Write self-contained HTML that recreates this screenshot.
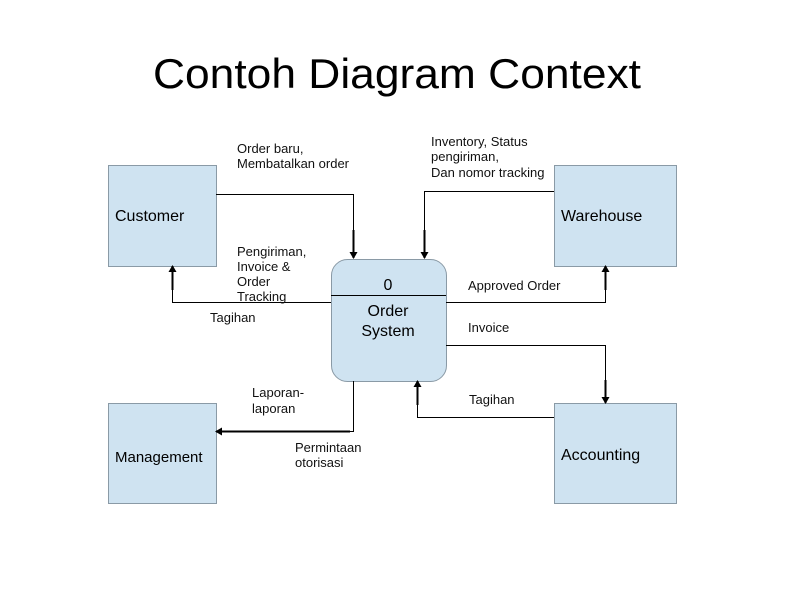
<!DOCTYPE html>
<html><head><meta charset="utf-8"><style>html,body{margin:0;padding:0;background:#fff}svg{display:block}</style></head>
<body>
<svg width="794" height="595" viewBox="0 0 794 595" xmlns="http://www.w3.org/2000/svg" font-family="Liberation Sans, sans-serif">
<defs>
<marker id="a" markerWidth="8" markerHeight="8" refX="6" refY="4" orient="auto" markerUnits="userSpaceOnUse">
<path d="M0,0 L7,4 L0,8 z" fill="#000"/>
</marker>
</defs>
<text x="397" y="88" font-size="42" text-anchor="middle" textLength="488" lengthAdjust="spacingAndGlyphs">Contoh Diagram Context</text>
<g fill="#cfe3f1" stroke="#8a9aa6" stroke-width="1">
<rect x="108.5" y="165.5" width="108" height="101"/>
<rect x="554.5" y="165.5" width="122" height="101"/>
<rect x="108.5" y="403.5" width="108" height="100"/>
<rect x="554.5" y="403.5" width="122" height="100"/>
<rect x="331.5" y="259.5" width="115" height="122" rx="16"/>
</g>
<line x1="331" y1="295.5" x2="446" y2="295.5" stroke="#000" stroke-width="1"/>
<g stroke="#000" stroke-width="1" fill="none">
<polyline points="216,194.5 353.5,194.5 353.5,252"/>
<polyline points="554,191.5 424.5,191.5 424.5,252"/>
<polyline points="331,302.5 172.5,302.5 172.5,272"/>
<polyline points="446,302.5 605.5,302.5 605.5,272"/>
<polyline points="446,345.5 605.5,345.5 605.5,397"/>
<polyline points="554,417.5 417.5,417.5 417.5,387"/>
<polyline points="353.5,381 353.5,431.5 222,431.5"/>
</g>
<g stroke="#000" stroke-width="2" marker-end="url(#a)">
<line x1="353.5" y1="230" x2="353.5" y2="258"/>
<line x1="424.5" y1="230" x2="424.5" y2="258"/>
<line x1="172.5" y1="290" x2="172.5" y2="266"/>
<line x1="605.5" y1="290" x2="605.5" y2="266"/>
<line x1="605.5" y1="380" x2="605.5" y2="403"/>
<line x1="417.5" y1="405" x2="417.5" y2="381"/>
<line x1="350" y1="431.5" x2="216" y2="431.5"/>
</g>
<g font-size="16">
<text x="115" y="221">Customer</text>
<text x="561" y="221">Warehouse</text>
<text x="561" y="460">Accounting</text>
<text x="115" y="462" font-size="15">Management</text>
<text x="388" y="290" text-anchor="middle">0</text>
<text x="388" y="316" text-anchor="middle">Order</text>
<text x="388" y="336" text-anchor="middle">System</text>
</g>
<g font-size="13" fill="#111">
<text x="237" y="153">Order baru,</text>
<text x="237" y="168">Membatalkan order</text>
<text x="431" y="146">Inventory, Status</text>
<text x="431" y="161">pengiriman,</text>
<text x="431" y="177">Dan nomor tracking</text>
<text x="237" y="256">Pengiriman,</text>
<text x="237" y="271">Invoice &amp;</text>
<text x="237" y="286">Order</text>
<text x="237" y="301">Tracking</text>
<text x="210" y="322">Tagihan</text>
<text x="252" y="397">Laporan-</text>
<text x="252" y="413">laporan</text>
<text x="295" y="452">Permintaan</text>
<text x="295" y="467">otorisasi</text>
<text x="468" y="290">Approved Order</text>
<text x="468" y="332">Invoice</text>
<text x="469" y="404">Tagihan</text>
</g>
</svg>
</body></html>
